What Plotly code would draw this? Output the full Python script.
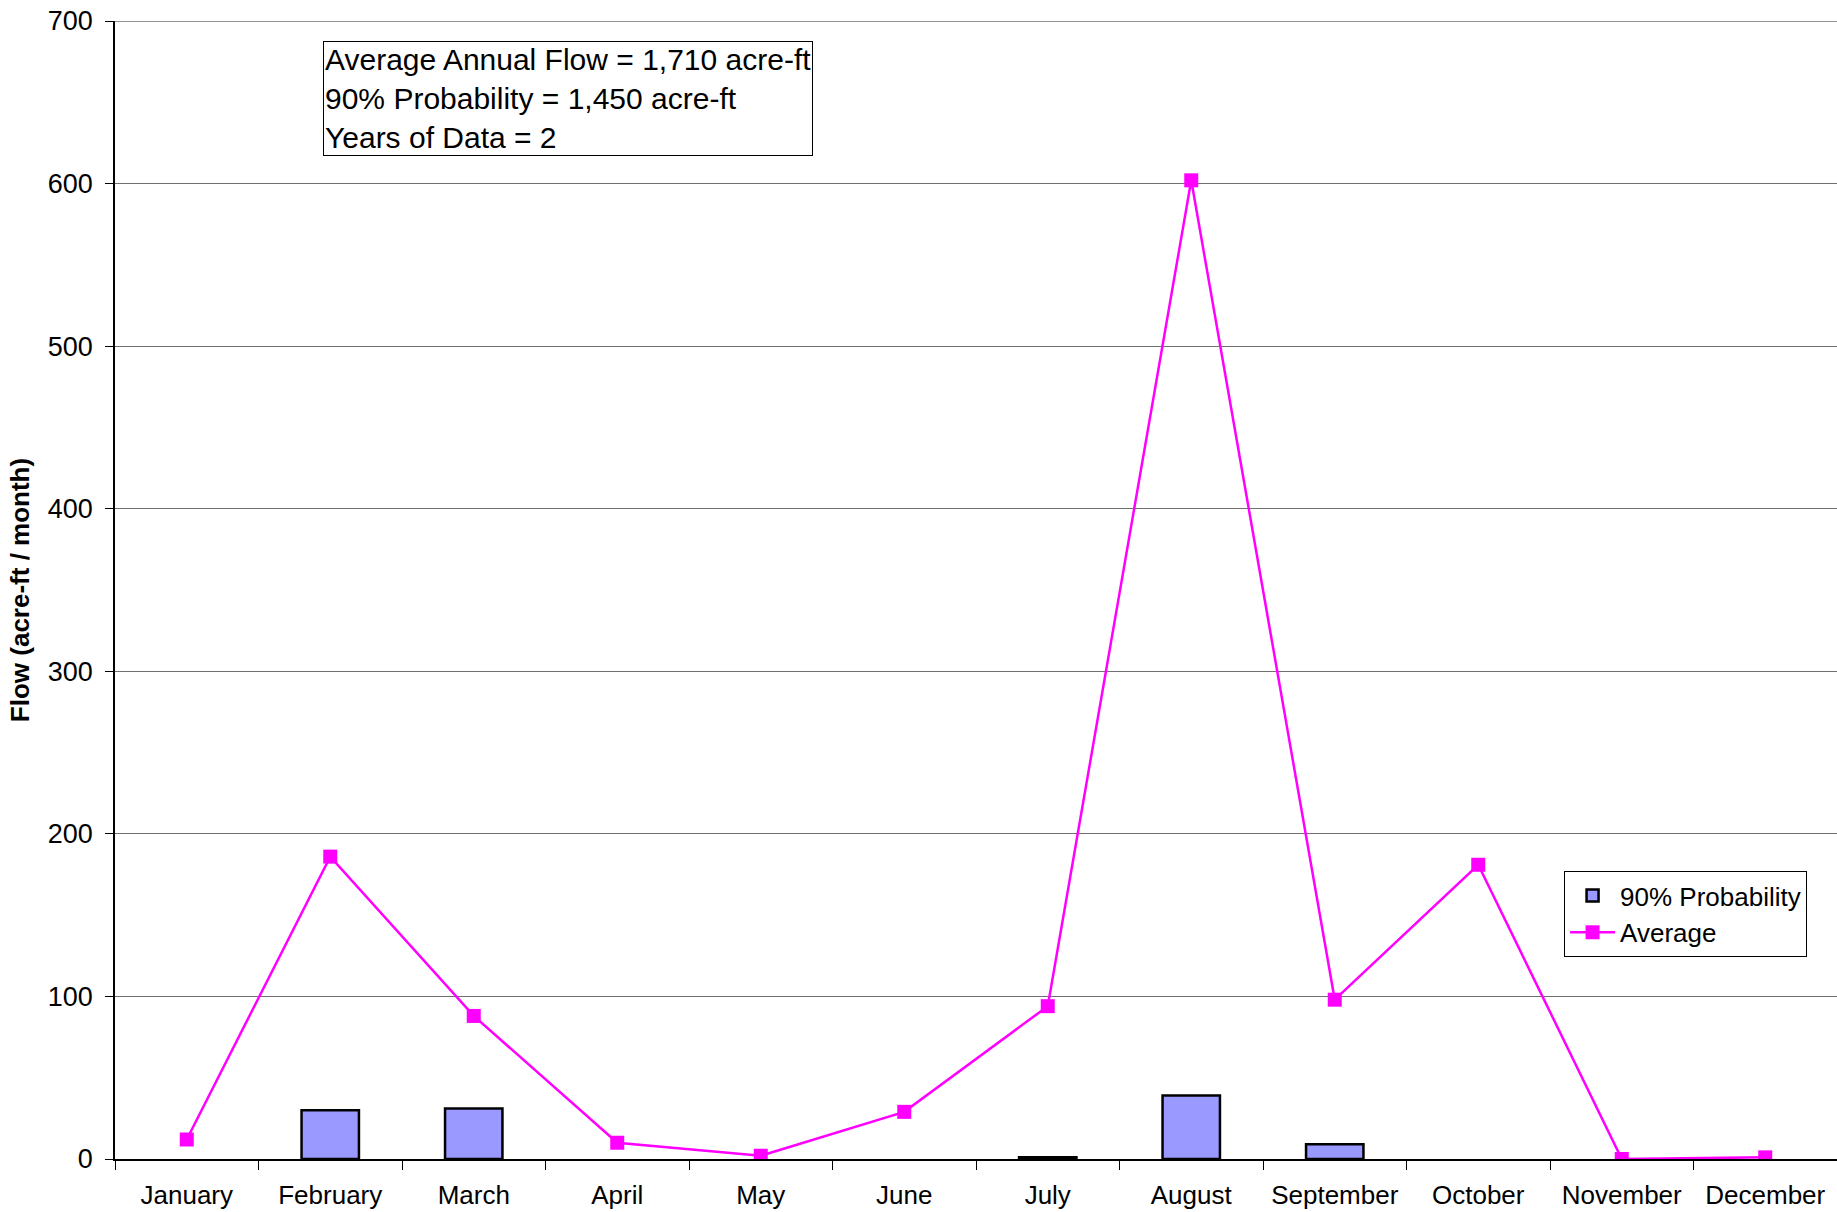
import plotly.graph_objects as go

months = ["January", "February", "March", "April", "May", "June", "July",
          "August", "September", "October", "November", "December"]
prob90 = [0, 30, 31, 0, 0, 0, 1, 39, 9, 0, 0, 0]
average = [12, 186, 88, 10, 2, 29, 94, 602, 98, 181, 0, 1]
y_ticks = [0, 100, 200, 300, 400, 500, 600, 700]
info_lines = ["Average Annual Flow = 1,710 acre-ft",
              "90% Probability = 1,450 acre-ft",
              "Years of Data = 2"]

FONT = "Liberation Sans, Arial, sans-serif"
Y_MAX = y_ticks[-1]

# zero-height bars are not drawn in the original chart
bar_vals = [v if v > 0 else None for v in prob90]

fig = go.Figure()
fig.add_trace(go.Bar(
    x=months, y=bar_vals, name="90% Probability", width=0.4,
    marker=dict(color="#9999FF", line=dict(color="black", width=2.5)),
))
fig.add_trace(go.Scatter(
    x=months, y=average, name="Average", mode="lines+markers",
    line=dict(color="#FF00FF", width=2.5),
    marker=dict(symbol="square", size=14, color="#FF00FF"),
))

fig.update_layout(
    width=1837, height=1212,
    margin=dict(l=115, r=0, t=21, b=53),
    paper_bgcolor="white", plot_bgcolor="white",
    font=dict(family=FONT, size=26, color="black"),
    showlegend=True,
    legend=dict(
        x=0.8415, y=0.253, xanchor="left", yanchor="top",
        bgcolor="white", bordercolor="black", borderwidth=1,
        font=dict(family=FONT, size=26, color="black"),
        traceorder="normal", itemwidth=45,
    ),
    bargap=0.6,
)

fig.update_xaxes(
    type="category", tickson="boundaries", ticks="outside", ticklen=9,
    tickcolor="black", tickwidth=1, showline=True, linecolor="black",
    linewidth=1.5, showgrid=False, range=[-0.5, 11.5], automargin=False,
    ticklabelstandoff=12,
    tickfont=dict(family=FONT, size=26, color="black"),
)
fig.update_yaxes(
    range=[0, Y_MAX], tickvals=y_ticks, ticks="outside", ticklen=8,
    tickcolor="black", tickwidth=1, showline=True, linecolor="black",
    linewidth=1.5, showgrid=True, gridcolor="#707070", gridwidth=1,
    zeroline=False, automargin=False, ticklabelstandoff=7,
    ticklabeloverflow="allow",
    tickfont=dict(family=FONT, size=27, color="black"),
    title=dict(text="<b>Flow (acre-ft / month)</b>", standoff=11,
               font=dict(family=FONT, size=26, color="black")),
)

# top gridline (at the upper end of the range)
fig.add_shape(type="line", xref="paper", yref="y", x0=0, x1=1,
              y0=Y_MAX, y1=Y_MAX, line=dict(color="#707070", width=1.5),
              layer="below")

fig.add_annotation(
    xref="paper", yref="paper", x=0.1208, y=0.9824,
    xanchor="left", yanchor="top", align="left", showarrow=False,
    text="<br>".join(info_lines),
    font=dict(family=FONT, size=30, color="black"),
    bordercolor="black", borderwidth=1, borderpad=1, bgcolor="white",
)

# remove the default page margin so the figure fills the window exactly
fig.write_html(
    "out.html",
    config={"displayModeBar": False},
    post_script=(
        "document.body.style.margin='0';"
        "document.body.style.overflow='hidden';"
        "document.documentElement.style.overflow='hidden';"
    ),
)
